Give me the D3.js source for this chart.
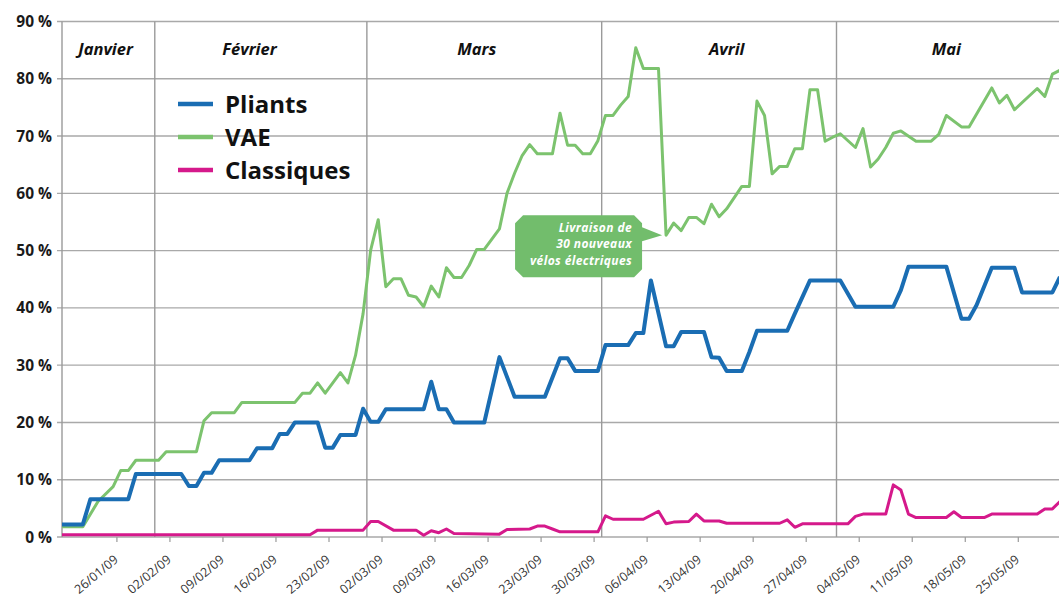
<!DOCTYPE html>
<html>
<head>
<meta charset="utf-8">
<script src="https://cdn.jsdelivr.net/npm/d3@7"></script>
<style>
  body { margin: 0; background: #fff; }
  svg { display: block; }
</style>
</head>
<body>
<div id="chart"></div>
<script>
// series (day, %), points at each change of slope
const seriesNames = ['Pliants', 'VAE', 'Classiques'];

const pliants = [
  ['18/01', 2.2], ['21/01', 2.2], ['22/01', 6.6], ['27/01', 6.6], ['28/01', 11.0],
  ['03/02', 11.0], ['04/02', 8.9], ['05/02', 8.9], ['06/02', 11.2], ['07/02', 11.2],
  ['08/02', 13.4], ['12/02', 13.4], ['13/02', 15.5], ['15/02', 15.5], ['16/02', 18.0],
  ['17/02', 18.0], ['18/02', 20.0], ['21/02', 20.0], ['22/02', 15.6], ['23/02', 15.6],
  ['24/02', 17.8], ['26/02', 17.8], ['27/02', 22.4], ['28/02', 20.1], ['01/03', 20.1],
  ['02/03', 22.3], ['07/03', 22.3], ['08/03', 27.1], ['09/03', 22.3], ['10/03', 22.3],
  ['11/03', 20.0], ['15/03', 20.0], ['17/03', 31.4], ['19/03', 24.5], ['23/03', 24.5],
  ['25/03', 31.2], ['26/03', 31.2], ['27/03', 29.0], ['30/03', 29.0], ['31/03', 33.5],
  ['03/04', 33.5], ['04/04', 35.6], ['05/04', 35.6], ['06/04', 44.8], ['08/04', 33.3],
  ['09/04', 33.3], ['10/04', 35.8], ['13/04', 35.8], ['14/04', 31.4], ['15/04', 31.3],
  ['16/04', 29.0], ['18/04', 29.0], ['19/04', 32.3], ['20/04', 36.0], ['24/04', 36.0],
  ['25/04', 39.0], ['27/04', 44.8], ['01/05', 44.8], ['03/05', 40.2], ['08/05', 40.2],
  ['09/05', 43.1], ['10/05', 47.2], ['15/05', 47.2], ['17/05', 38.1], ['18/05', 38.1],
  ['19/05', 40.5], ['21/05', 47.0], ['24/05', 47.0], ['25/05', 42.7], ['29/05', 42.7],
  ['30/05', 45.4]
];

const vae = [
  ['18/01', 1.8], ['21/01', 1.8], ['23/01', 6.2], ['25/01', 8.8], ['26/01', 11.6],
  ['27/01', 11.6], ['28/01', 13.4], ['31/01', 13.4], ['01/02', 14.9], ['05/02', 14.9],
  ['06/02', 20.3], ['07/02', 21.7], ['10/02', 21.7], ['11/02', 23.5], ['18/02', 23.5],
  ['19/02', 25.1], ['20/02', 25.1], ['21/02', 26.9], ['22/02', 25.1], ['24/02', 28.7],
  ['25/02', 26.9], ['26/02', 31.7], ['27/02', 39.0], ['28/02', 50.1], ['01/03', 55.4],
  ['02/03', 43.7], ['03/03', 45.1], ['04/03', 45.1], ['05/03', 42.2], ['06/03', 41.9],
  ['07/03', 40.2], ['08/03', 43.8], ['09/03', 41.9], ['10/03', 47.0], ['11/03', 45.3],
  ['12/03', 45.3], ['13/03', 47.4], ['14/03', 50.2], ['15/03', 50.2], ['17/03', 53.8],
  ['18/03', 60.0], ['19/03', 63.5], ['20/03', 66.6], ['21/03', 68.5], ['22/03', 66.9],
  ['24/03', 66.9], ['25/03', 74.0], ['26/03', 68.4], ['27/03', 68.4], ['28/03', 66.9],
  ['29/03', 66.9], ['30/03', 69.2], ['31/03', 73.6], ['01/04', 73.6], ['02/04', 75.4],
  ['03/04', 76.9], ['04/04', 85.4], ['05/04', 81.8], ['07/04', 81.8], ['08/04', 52.7],
  ['09/04', 54.8], ['10/04', 53.5], ['11/04', 55.8], ['12/04', 55.8], ['13/04', 54.7],
  ['14/04', 58.1], ['15/04', 55.9], ['16/04', 57.3], ['18/04', 61.2], ['19/04', 61.2],
  ['20/04', 76.1], ['21/04', 73.6], ['22/04', 63.4], ['23/04', 64.7], ['24/04', 64.7],
  ['25/04', 67.8], ['26/04', 67.8], ['27/04', 78.1], ['28/04', 78.1], ['29/04', 69.1],
  ['30/04', 69.8], ['01/05', 70.4], ['03/05', 68.0], ['04/05', 71.3], ['05/05', 64.6],
  ['06/05', 66.0], ['07/05', 68.0], ['08/05', 70.5], ['09/05', 70.9], ['11/05', 69.1],
  ['13/05', 69.1], ['14/05', 70.3], ['15/05', 73.6], ['17/05', 71.6], ['18/05', 71.6],
  ['21/05', 78.4], ['22/05', 75.8], ['23/05', 77.1], ['24/05', 74.6], ['27/05', 78.3],
  ['28/05', 76.9], ['29/05', 80.8], ['30/05', 81.5]
];

const classiques = [
  ['18/01', 0.4], ['20/02', 0.4], ['21/02', 1.2], ['27/02', 1.2], ['28/02', 2.7],
  ['01/03', 2.7], ['03/03', 1.2], ['06/03', 1.2], ['07/03', 0.3], ['08/03', 1.1],
  ['09/03', 0.75], ['10/03', 1.4], ['11/03', 0.6], ['17/03', 0.5], ['18/03', 1.3],
  ['21/03', 1.4], ['22/03', 1.9], ['23/03', 1.9], ['24/03', 1.4], ['25/03', 0.9],
  ['30/03', 0.9], ['31/03', 3.7], ['01/04', 3.1], ['05/04', 3.1], ['07/04', 4.5],
  ['08/04', 2.3], ['09/04', 2.6], ['11/04', 2.7], ['12/04', 4.0], ['13/04', 2.8],
  ['15/04', 2.8], ['16/04', 2.4], ['23/04', 2.4], ['24/04', 3.0], ['25/04', 1.7],
  ['26/04', 2.3], ['02/05', 2.3], ['03/05', 3.6], ['04/05', 4.0], ['07/05', 4.0],
  ['08/05', 9.1], ['09/05', 8.2], ['10/05', 4.0], ['11/05', 3.4], ['15/05', 3.4],
  ['16/05', 4.4], ['17/05', 3.4], ['20/05', 3.4], ['21/05', 4.0], ['27/05', 4.0],
  ['28/05', 4.9], ['29/05', 4.9], ['30/05', 6.2]
];

const tickLabels = [
  '26/01/09', '02/02/09', '09/02/09', '16/02/09', '23/02/09', '02/03/09',
  '09/03/09', '16/03/09', '23/03/09', '30/03/09', '06/04/09', '13/04/09',
  '20/04/09', '27/04/09', '04/05/09', '11/05/09', '18/05/09', '25/05/09'
];
const yTicks = [0, 10, 20, 30, 40, 50, 60, 70, 80, 90];

const monthNames = ['Janvier', 'Février', 'Mars', 'Avril', 'Mai'];
const monthLabelDates = ['24/01', '12/02', '14/03', '16/04', '15/05'];
const monthDividers = ['31/01', '28/02', '31/03', '01/05'];

const calloutLines = ['Livraison de', '30 nouveaux', 'vélos électriques'];
const calloutPoint = ['08/04', 52.7];

const colors = ['#1a6db3', '#7cc36e', '#d5198b'];

const W = 1059, H = 597;
const margin = { top: 21.5, left: 62, bottom: 60 };
const plotBottom = 537;

const parseDay = d3.timeParse('%d/%m/%Y');
const day = s => parseDay(s + '/2009');
const noon = s => d3.timeHour.offset(day(s), 12);   // points sit mid-day, ticks at midnight
const parseTick = d3.timeParse('%d/%m/%y');

const svg = d3.select('#chart')
  .append('svg')
  .attr('width', W)
  .attr('height', H);

const x = d3.scaleTime()
  .domain([new Date(2009, 0, 18, 18), new Date(2009, 4, 30, 9)])
  .range([margin.left, W]);

const y = d3.scaleLinear()
  .domain([0, 90])
  .range([plotBottom, margin.top]);

// horizontal gridlines
svg.append('g')
  .selectAll('line.gridline').data(yTicks).enter()
  .append('line')
  .attr('x1', margin.left - 5)
  .attr('x2', W)
  .attr('y1', d => y(d))
  .attr('y2', d => y(d))
  .style('stroke', '#a9a9a9')
  .style('stroke-width', 1.4);

// y labels
svg.append('g')
  .selectAll('text').data(yTicks).enter()
  .append('text')
  .attr('x', 52)
  .attr('y', d => y(d))
  .attr('dy', '0.36em')
  .attr('text-anchor', 'end')
  .style('font-family', '"Open Sans", sans-serif')
  .style('font-weight', 700)
  .style('font-size', '15.5px')
  .style('fill', '#1a1a1a')
  .text(d => d + ' %');

// left axis + month dividers
svg.append('line')
  .attr('x1', margin.left).attr('x2', margin.left)
  .attr('y1', margin.top).attr('y2', plotBottom)
  .style('stroke', '#9a9a9a').style('stroke-width', 1.4);

svg.append('g')
  .selectAll('line').data(monthDividers).enter()
  .append('line')
  .attr('x1', d => x(day(d)))
  .attr('x2', d => x(day(d)))
  .attr('y1', margin.top)
  .attr('y2', plotBottom)
  .style('stroke', '#9a9a9a')
  .style('stroke-width', 1.4);

// month names
svg.append('g')
  .selectAll('text').data(monthNames).enter()
  .append('text')
  .attr('x', (d, i) => x(noon(monthLabelDates[i])))
  .attr('y', 55)
  .attr('text-anchor', 'middle')
  .style('font-family', '"Open Sans", sans-serif')
  .style('font-weight', 700)
  .style('font-style', 'italic')
  .style('font-size', '16.5px')
  .style('fill', '#111')
  .text(d => d);

// x axis ticks and rotated labels
const tickDates = tickLabels.map(parseTick);
const xAxis = svg.append('g');
xAxis.selectAll('line').data(tickDates).enter()
  .append('line')
  .attr('x1', d => x(d)).attr('x2', d => x(d))
  .attr('y1', plotBottom).attr('y2', plotBottom + 5)
  .style('stroke', '#9a9a9a').style('stroke-width', 1.2);

xAxis.selectAll('text').data(tickLabels).enter()
  .append('text')
  .attr('transform', (d, i) => `translate(${x(tickDates[i]) + 2},${plotBottom + 24}) rotate(-40)`)
  .attr('text-anchor', 'end')
  .style('font-family', '"Open Sans", sans-serif')
  .style('font-size', '12.5px')
  .style('fill', '#333')
  .text(d => d);

// lines
svg.append('clipPath').attr('id', 'plotClip')
  .append('rect')
  .attr('x', margin.left).attr('y', 0)
  .attr('width', W - margin.left).attr('height', H);

const line = d3.line()
  .x(d => x(noon(d[0])))
  .y(d => y(d[1]));

const seriesData = [pliants, vae, classiques];
const widths = [4, 3, 3];
const drawOrder = [1, 0, 2];

const lines = svg.append('g').attr('clip-path', 'url(#plotClip)');
drawOrder.forEach(i => {
  lines.append('path')
    .datum(seriesData[i])
    .attr('d', line)
    .style('fill', 'none')
    .style('stroke', colors[i])
    .style('stroke-width', widths[i])
    .style('stroke-linejoin', 'round');
});

// legend
const legend = svg.append('g').attr('transform', 'translate(178,104)');
seriesNames.forEach((name, i) => {
  const row = legend.append('g').attr('transform', `translate(0,${i * 33})`);
  row.append('line')
    .attr('x1', 0).attr('x2', 35)
    .style('stroke', colors[i])
    .style('stroke-width', 4.5);
  row.append('text')
    .attr('x', 47)
    .attr('dy', '0.36em')
    .style('font-family', '"Open Sans", sans-serif')
    .style('font-weight', 700)
    .style('font-size', '24px')
    .style('fill', '#111')
    .text(name);
});

// callout
const tipX = x(noon(calloutPoint[0])) - 4;
const tipY = y(calloutPoint[1]);
const bx1 = tipX - 147, bx2 = tipX - 20, by1 = tipY - 20, by2 = tipY + 42, c = 8;
const callout = svg.append('g');
callout.append('path')
  .attr('d', `M${bx1 + c},${by1} L${bx2 - c},${by1} L${bx2},${by1 + c} L${bx2},${tipY - 8}
    L${tipX},${tipY} L${bx2},${tipY + 6} L${bx2},${by2 - c} L${bx2 - c},${by2}
    L${bx1 + c},${by2} L${bx1},${by2 - c} L${bx1},${by1 + c} Z`)
  .style('fill', '#72bd6c');

callout.selectAll('text').data(calloutLines).enter()
  .append('text')
  .attr('x', bx2 - 10)
  .attr('y', (d, i) => by1 + 17 + i * 16.3)
  .attr('text-anchor', 'end')
  .style('font-family', '"Open Sans", sans-serif')
  .style('font-weight', 700)
  .style('font-style', 'italic')
  .style('font-size', '12px')
  .style('letter-spacing', '0.4px')
  .style('fill', '#fff')
  .text(d => d);
</script>
</body>
</html>
